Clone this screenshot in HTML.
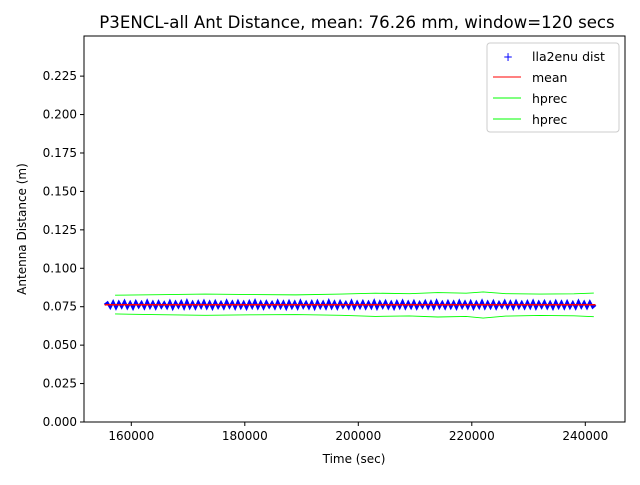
<!DOCTYPE html>
<html><head><meta charset="utf-8"><style>
body{margin:0;background:#fff;font-family:"Liberation Sans","DejaVu Sans",sans-serif}
svg text{font-family:"DejaVu Sans","Liberation Sans",sans-serif}
</style></head><body>
<svg id="c" width="640" height="480" xmlns="http://www.w3.org/2000/svg">
<rect width="640" height="480" fill="#fff"/>
<text x="357" y="28" font-size="16.6" text-anchor="middle">P3ENCL-all Ant Distance, mean: 76.26 mm, window=120 secs</text>
<g id="plot"></g>
<rect x="84" y="36" width="541" height="386" fill="none" stroke="#000" stroke-width="1"/>
<text x="354" y="463" font-size="12" text-anchor="middle">Time (sec)</text>
<text transform="translate(26,229) rotate(-90)" font-size="12" text-anchor="middle">Antenna Distance (m)</text>
<g>
<rect x="487" y="43" width="132" height="89" rx="3" fill="#fff" stroke="#ccc"/>
<text x="508" y="61" font-size="12" fill="#00f" text-anchor="middle">+</text>
<text x="532" y="61" font-size="12.5">lla2enu dist</text>
<line x1="493" y1="77" x2="521" y2="77" stroke="#f00" stroke-width="1"/>
<text x="532" y="82" font-size="12.5">mean</text>
<line x1="493" y1="98" x2="521" y2="98" stroke="#0f0" stroke-width="1"/>
<text x="532" y="103" font-size="12.5">hprec</text>
<line x1="493" y1="119" x2="521" y2="119" stroke="#0f0" stroke-width="1"/>
<text x="532" y="124" font-size="12.5">hprec</text>
</g>
</svg>
<script>
const yTicks=[0,0.025,0.05,0.075,0.1,0.125,0.15,0.175,0.2,0.225];
const yTickLabels=["0.000","0.025","0.050","0.075","0.100","0.125","0.150","0.175","0.200","0.225"];
const xTicks=[160000,180000,200000,220000,240000];
const xTickLabels=["160000","180000","200000","220000","240000"];
const meanValue=0.07626;
const distStart=155300, distStep=500;
const distValues=[0.0762,0.0776,0.0745,0.0781,0.0742,0.0779,0.0748,0.0784,0.0744,0.0777,0.0741,0.0782,0.0749,0.0778,0.0743,0.0785,0.0746,0.0779,0.0742,0.0781,0.0747,0.0776,0.0744,0.0783,0.0741,0.0779,0.0748,0.0782,0.0743,0.0786,0.0745,0.0778,0.0742,0.0781,0.0747,0.0784,0.0744,0.0779,0.0741,0.0782,0.0746,0.0777,0.0743,0.0785,0.0748,0.0780,0.0742,0.0783,0.0745,0.0778,0.0741,0.0782,0.0747,0.0786,0.0744,0.0779,0.0742,0.0781,0.0748,0.0777,0.0743,0.0784,0.0746,0.0780,0.0741,0.0782,0.0745,0.0779,0.0742,0.0785,0.0747,0.0778,0.0744,0.0781,0.0741,0.0783,0.0746,0.0779,0.0743,0.0786,0.0745,0.0780,0.0742,0.0782,0.0748,0.0777,0.0744,0.0784,0.0741,0.0779,0.0746,0.0782,0.0743,0.0778,0.0745,0.0785,0.0742,0.0780,0.0747,0.0783,0.0744,0.0778,0.0741,0.0781,0.0746,0.0784,0.0743,0.0779,0.0745,0.0782,0.0742,0.0777,0.0748,0.0783,0.0744,0.0780,0.0741,0.0785,0.0746,0.0778,0.0743,0.0782,0.0745,0.0779,0.0742,0.0784,0.0747,0.0780,0.0744,0.0782,0.0741,0.0778,0.0746,0.0785,0.0743,0.0779,0.0745,0.0782,0.0742,0.0777,0.0748,0.0784,0.0744,0.0780,0.0741,0.0783,0.0746,0.0778,0.0743,0.0781,0.0745,0.0784,0.0742,0.0779,0.0747,0.0782,0.0744,0.0778,0.0741,0.0783,0.0746,0.0780,0.0743,0.0782,0.0745,0.0777,0.0742,0.0784,0.0747,0.0779,0.0744,0.0781,0.0746,0.0762];
const hpX=[157140,165000,173000,181000,189000,197000,203000,209000,214000,219000,222000,226000,232000,238000,241500];
const hpUpper=[0.0825,0.0828,0.0832,0.0829,0.0827,0.0832,0.0838,0.0835,0.0842,0.0838,0.0846,0.0835,0.0832,0.0834,0.0839];
const hpLower=[0.0703,0.0698,0.0694,0.0697,0.0699,0.0694,0.0687,0.0690,0.0683,0.0687,0.0676,0.0689,0.0693,0.0691,0.0685];
const X0=151665,X1=246996,Y0=0,Y1=0.2511;
const xs=v=>84+(v-X0)/(X1-X0)*541;
const ys=v=>422-(v-Y0)/(Y1-Y0)*386;
const NS="http://www.w3.org/2000/svg";
const g=document.getElementById('plot');
function mk(t,a){const e=document.createElementNS(NS,t);for(const k in a)e.setAttribute(k,a[k]);g.appendChild(e);return e;}
yTicks.forEach((v,i)=>{
 const l=mk('line',{x1:80,x2:84,y1:ys(v),y2:ys(v),stroke:'#000'});
 
 
 const t=mk('text',{x:77,y:ys(v)+4,'font-size':12,'text-anchor':'end'});t.textContent=yTickLabels[i];
 
 
});
xTicks.forEach((v,i)=>{
 const l=mk('line',{x1:xs(v),x2:xs(v),y1:422,y2:426,stroke:'#000'});
 
 
 const t=mk('text',{x:xs(v),y:440,'font-size':12,'text-anchor':'middle'});t.textContent=xTickLabels[i];
 
 
});
const hu=mk('polyline',{points:hpX.map((x,i)=>xs(x)+','+ys(hpUpper[i])).join(' '),fill:'none',stroke:'#0f0','stroke-width':0.9});


const hl=mk('polyline',{points:hpX.map((x,i)=>xs(x)+','+ys(hpLower[i])).join(' '),fill:'none',stroke:'#0f0','stroke-width':0.9});


const dp=distValues.map((v,i)=>xs(distStart+i*distStep)+','+ys(v)).join(' ');
const d=mk('polyline',{points:dp,fill:'none',stroke:'#00f','stroke-width':2.6,'stroke-linejoin':'miter'});


const m=mk('line',{x1:xs(distStart),x2:xs(distStart+(distValues.length-1)*distStep),y1:ys(meanValue),y2:ys(meanValue),stroke:'#f00','stroke-width':1.5});


</script>
</body></html>
